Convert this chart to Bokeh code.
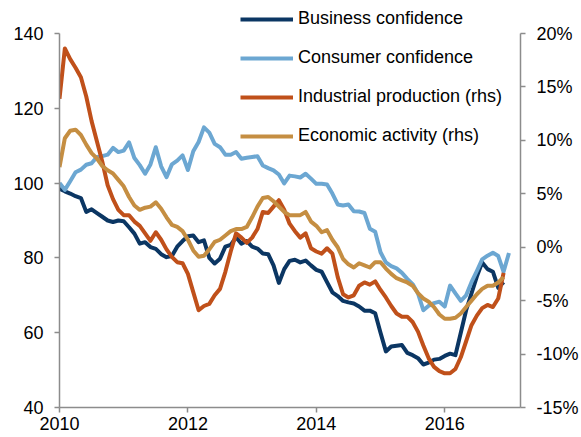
from bokeh.plotting import figure
from bokeh.models import (Range1d, LinearAxis, FixedTicker, PrintfTickFormatter,
                          Legend, LegendItem, ColumnDataSource)
from bokeh.embed import file_html
from bokeh.resources import INLINE

# Monthly data, Jan 2010 onwards
start_year = 2010
business_confidence = [
    98.5, 97.8, 97.2, 96.5, 96.0, 92.3, 93.0, 92.0, 91.0, 90.0, 89.6, 90.0,
    89.8, 88.2, 86.5, 83.8, 84.2, 82.9, 82.4, 81.0, 80.2, 80.5, 83.0, 84.5,
    85.8, 86.0, 84.2, 84.7, 80.0, 78.5, 79.8, 83.0, 83.5, 85.5, 83.8, 84.5,
    83.0, 82.5, 81.2, 81.0, 78.0, 73.3, 77.0, 79.2, 79.5, 78.8, 79.3, 78.0,
    76.8, 76.3, 73.5, 70.8, 69.8, 68.5, 68.1, 67.8, 67.0, 65.9, 65.9, 65.2,
    60.0, 55.0, 56.3, 56.5, 56.7, 54.6, 54.0, 53.2, 51.5, 52.0, 52.8, 53.0,
    53.8, 54.4, 54.0, 60.0, 66.0, 70.5, 75.0, 78.8, 77.0, 76.3, 72.0, 73.5,
]
consumer_confidence = [
    100.0, 98.2, 100.5, 102.9, 103.6, 104.9, 105.3, 107.0, 107.2, 107.6, 109.4, 108.3,
    108.7, 110.9, 106.7, 104.8, 102.5, 105.0, 109.6, 104.5, 101.6, 105.0, 106.0, 107.4,
    103.5, 108.5, 111.0, 114.9, 113.5, 110.5, 109.6, 107.6, 107.6, 108.3, 106.5, 106.8,
    107.0, 107.2, 104.7, 104.0, 103.4, 102.3, 99.9, 102.0, 101.8, 101.5, 102.5, 101.2,
    99.8, 99.8, 99.6, 97.2, 94.3, 94.0, 94.3, 92.5, 92.4, 92.0, 87.8, 87.0,
    81.5, 78.8, 77.8, 77.2, 76.0, 74.4, 73.0, 70.5, 66.0, 67.2, 67.9, 68.3,
    67.0, 72.6, 70.5, 68.5, 70.0, 73.5, 76.5, 79.6, 80.6, 81.4, 80.5, 76.3,
    81.3,
]
industrial_production = [
    13.9, 18.6, 17.6, 16.8, 15.9, 14.1, 11.8, 9.9, 8.0, 5.8, 4.5, 3.5,
    3.0, 3.0, 2.4, 2.0, 1.3, 0.6, 1.4, 0.7, -0.2, -0.9, -1.4, -1.5,
    -2.5, -4.2, -5.9, -5.5, -5.3, -4.5, -3.9, -2.3, -0.4, 1.3, 0.9, 0.4,
    0.9, 1.7, 3.3, 3.2, 3.8, 4.4, 3.5, 2.2, 1.5, 0.9, 1.3, -0.1,
    -0.4, -0.6, -0.1, -0.6, -2.8, -4.4, -4.7, -4.5, -3.6, -3.3, -3.5, -3.2,
    -4.0, -4.7, -5.5, -6.2, -6.5, -6.5, -7.0, -7.9, -9.2, -10.4, -11.2, -11.6,
    -11.8, -11.8, -11.4, -10.3, -8.8, -7.3, -6.4, -5.7, -5.4, -5.6, -4.8, -2.4,
]
economic_activity = [
    7.5, 10.2, 10.9, 11.0, 10.5, 9.6, 8.8, 8.3, 7.6, 7.2, 6.9, 6.3,
    5.7, 4.7, 3.9, 3.5, 3.7, 3.8, 4.2, 3.6, 2.8, 2.1, 1.9, 1.5,
    0.7, -0.3, -0.9, -0.8, -0.2, 0.5, 0.7, 1.1, 1.5, 1.7, 1.7, 1.9,
    2.8, 3.8, 4.6, 4.7, 4.3, 3.8, 3.3, 3.0, 3.0, 3.0, 3.3, 2.4,
    2.0, 1.4, 1.6, 0.7, 0.0, -1.1, -1.6, -1.9, -1.5, -1.7, -1.9, -1.4,
    -1.4, -2.0, -2.5, -2.9, -3.1, -3.3, -3.6, -4.3, -4.8, -5.1, -5.6, -6.3,
    -6.7, -6.7, -6.6, -6.2, -5.6, -5.0, -4.4, -3.9, -3.6, -3.6, -3.3, -2.8,
]
x_ticks = [2010, 2012, 2014, 2016]
left_ticks = [40, 60, 80, 100, 120, 140]
right_ticks = [-15, -10, -5, 0, 5, 10, 15, 20]
labels = ["Business confidence", "Consumer confidence",
          "Industrial production (rhs)", "Economic activity (rhs)"]
colors = ["#0B3663", "#6CA7D2", "#C0501A", "#C58E42"]


def xs(vals):
    return [start_year + i / 12 for i in range(len(vals))]


FONT = "Liberation Sans"
# Frame reaches the top of the canvas so the legend (which sits above the
# axes' top tick) is not clipped; axis lines are bounded to the data scale.
TOP_PAD = 33 / 374  # fraction of axis span above the top tick
left_lo, left_hi = 40, 140
right_lo, right_hi = -15, 20
p = figure(width=581, height=437, output_backend="svg", toolbar_location=None,
           x_range=Range1d(2010, 2017.18),
           y_range=Range1d(left_lo, left_hi + (left_hi - left_lo) * TOP_PAD),
           min_border_left=59, min_border_right=59, min_border_top=0,
           min_border_bottom=30)
p.extra_y_ranges = {"rhs": Range1d(right_lo, right_hi + (right_hi - right_lo) * TOP_PAD)}
p.grid.visible = False
p.outline_line_color = None
p.background_fill_color = "white"
p.border_fill_color = "white"

axis_color = "#8C8C8C"


def style_axis(ax, ticks):
    ax.ticker = FixedTicker(ticks=ticks)
    ax.axis_line_color = axis_color
    ax.axis_line_width = 1.5
    ax.major_tick_line_color = axis_color
    ax.major_tick_line_width = 1.5
    ax.major_tick_out = 5
    ax.major_tick_in = 0
    ax.minor_tick_line_color = None
    ax.major_label_text_font = FONT
    ax.major_label_text_font_size = "18px"
    ax.major_label_text_color = "#000000"


style_axis(p.xaxis[0], x_ticks)
p.xaxis[0].formatter = PrintfTickFormatter(format="%d")
p.xaxis[0].major_label_standoff = 4
style_axis(p.yaxis[0], left_ticks)
p.yaxis[0].bounds = (left_lo, left_hi)
p.yaxis[0].major_label_standoff = 11

rax = LinearAxis(y_range_name="rhs", bounds=(right_lo, right_hi))
style_axis(rax, right_ticks)
rax.formatter = PrintfTickFormatter(format="%d%%")
rax.major_label_standoff = 11
p.add_layout(rax, "right")

series = [
    (business_confidence, "default"),
    (consumer_confidence, "default"),
    (industrial_production, "rhs"),
    (economic_activity, "rhs"),
]
items = []
for (vals, rng), lab, col in zip(series, labels, colors):
    src = ColumnDataSource(dict(x=xs(vals), y=vals))
    r = p.line("x", "y", source=src, line_color=col, line_width=4,
               line_join="round", y_range_name=rng)
    items.append(LegendItem(label=lab, renderers=[r]))

legend = Legend(items=items, location=(181, 261), orientation="vertical",
                label_text_font=FONT, label_text_font_size="18px",
                label_text_color="#000000", glyph_width=53, glyph_height=20,
                label_height=20, label_standoff=5, spacing=18, padding=0,
                margin=0, border_line_color=None, background_fill_alpha=0)
p.add_layout(legend, "center")

open("out.html", "w").write(file_html(p, INLINE))
